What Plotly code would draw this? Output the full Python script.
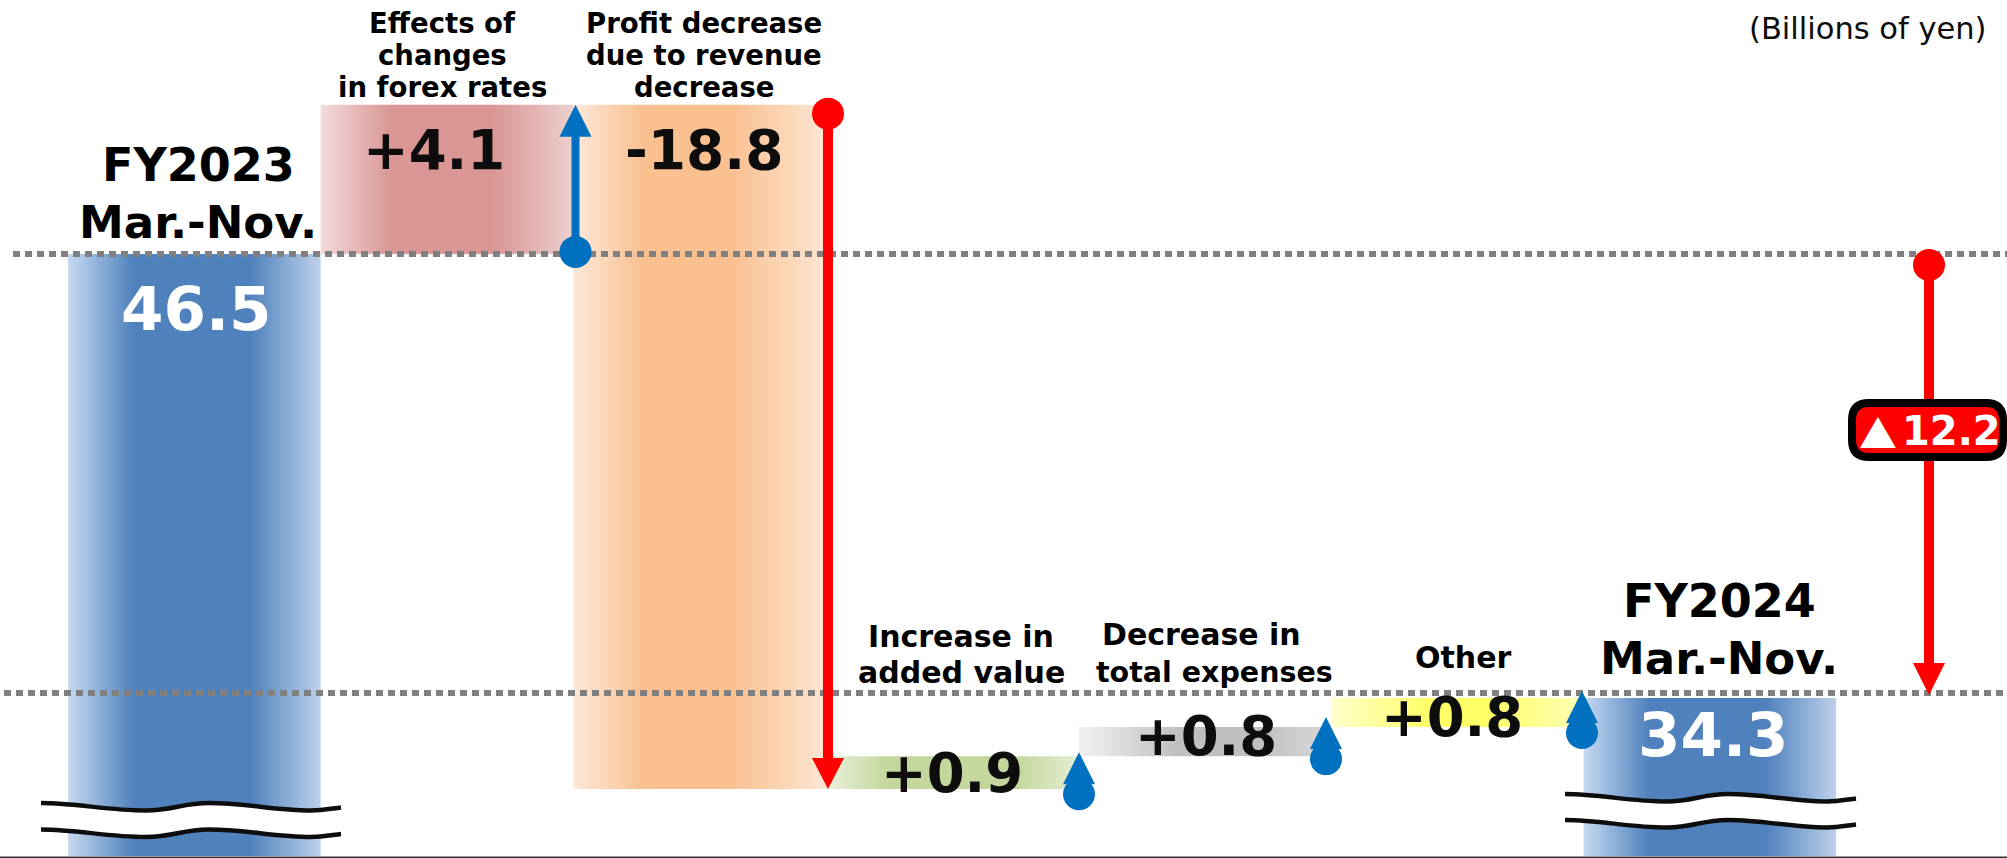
import plotly.graph_objects as go

W, H = 2007, 858

# ---- data ----
categories = ["FY2023 Mar.-Nov.", "Effects of changes in forex rates",
              "Profit decrease due to revenue decrease", "Increase in added value",
              "Decrease in total expenses", "Other", "FY2024 Mar.-Nov."]
start_value = 46.5
end_value = 34.3
change_values = [4.1, -18.8, 0.9, 0.8, 0.8]
total_change = -12.2
value_labels = ["46.5", "+4.1", "-18.8", "+0.9", "+0.8", "+0.8", "34.3"]

# ---- scales ----
PX_PER_UNIT_Y = 36.4
PX_PER_CAT = 252.6
X0 = 68.0
Y_REF_PX = 698.0
y_top = end_value + Y_REF_PX / PX_PER_UNIT_Y
y_bottom = end_value - (H - Y_REF_PX) / PX_PER_UNIT_Y
x_left = -0.5 - X0 / PX_PER_CAT
x_right = x_left + W / PX_PER_CAT
floor_value = end_value - (856 - Y_REF_PX) / PX_PER_UNIT_Y


def vpx(v):
    return Y_REF_PX - (v - end_value) * PX_PER_UNIT_Y


def px2v(p):
    return end_value - (p - Y_REF_PX) / PX_PER_UNIT_Y


def dx(px):
    return px / PX_PER_CAT


def px2x(p):
    return x_left + p / PX_PER_CAT


def grad(edge_l, mid, edge_r, a=0.26, b=0.72):
    return [[0, edge_l], [a, mid], [b, mid], [1, edge_r]]


BLUE = grad("#c6d9f1", "#4f81bd", "#bdd0ea")
gradients = [
    BLUE,
    grad("#f2dcdb", "#d99694", "#ecd0cf", 0.28, 0.68),
    grad("#fde9d9", "#fac090", "#fde6d3", 0.28, 0.62),
    grad("#ebf1de", "#c3d69b", "#e6edd4", 0.25, 0.75),
    grad("#f2f2f2", "#bfbfbf", "#d9d9d9", 0.4, 0.7),
    grad("#ffffcc", "#ffff66", "#ffffb8", 0.4, 0.62),
    BLUE,
]

# running totals give each bar's span
levels = [start_value]
for c in change_values:
    levels.append(round(levels[-1] + c, 1))
bar_low = [floor_value] + [min(levels[i], levels[i + 1]) for i in range(len(change_values))] + [floor_value]
bar_high = [start_value] + [max(levels[i], levels[i + 1]) for i in range(len(change_values))] + [end_value]

fig = go.Figure()

for i, name in enumerate(categories):
    fig.add_trace(go.Scatter(
        x=[i - .5, i + .5, i + .5, i - .5, i - .5],
        y=[bar_low[i], bar_low[i], bar_high[i], bar_high[i], bar_low[i]],
        mode="lines", fill="toself", line=dict(width=0), name=name,
        fillgradient=dict(type="horizontal", colorscale=gradients[i]),
        hoverinfo="name",
    ))

# reference lines
for v, off, x_start in [(start_value, 0, 13), (end_value, -5, 4)]:
    fig.add_trace(go.Scatter(
        x=[px2x(x_start), x_right], y=[px2v(vpx(v) + off)] * 2, mode="lines",
        line=dict(color="#808080", width=6, dash="7px,5px"), hoverinfo="skip",
    ))


def head(x, tip_px, length, half, up, color):
    base = tip_px + length if up else tip_px - length
    fig.add_trace(go.Scatter(
        x=[x - dx(half), x + dx(half), x, x - dx(half)],
        y=[px2v(base), px2v(base), px2v(tip_px), px2v(base)],
        mode="lines", fill="toself", fillcolor=color, line=dict(width=0), hoverinfo="skip",
    ))


def dot(x, center_px, color, r=16):
    fig.add_shape(type="circle", xref="x", yref="y", layer="above",
                  x0=x - dx(r), x1=x + dx(r), y0=px2v(center_px + r), y1=px2v(center_px - r),
                  fillcolor=color, line=dict(width=0))


def stem(x, p0, p1, color, w):
    fig.add_trace(go.Scatter(x=[x, x], y=[px2v(p0), px2v(p1)], mode="lines",
                             line=dict(color=color, width=w), hoverinfo="skip"))


BLUE_A = "#0070c0"
RED_A = "#ff0000"
# forex arrow (up)
xa = 1.5 + dx(2.3)
stem(xa, vpx(levels[0]), vpx(levels[1]) + 30, BLUE_A, 8)
head(xa, vpx(levels[1]), 32, 16, True, BLUE_A)
dot(xa, vpx(levels[0]) - 2, BLUE_A)
# revenue arrow (down)
xa = 2.5 + dx(2.2)
stem(xa, vpx(levels[1]) + 9, vpx(levels[2]) - 30, RED_A, 10)
head(xa, vpx(levels[2]), 31, 16, False, RED_A)
dot(xa, vpx(levels[1]) + 9, RED_A)
# small up arrows
for k, over, nudge in zip(range(3, 6), (4, 10, 7), (0.6, -5, -1.6)):
    xa = k + .5 + dx(nudge)
    tip = vpx(levels[k]) - over
    head(xa, tip, 32, 16, True, BLUE_A)
    dot(xa, tip + 42, BLUE_A)
# total change arrow
xa = px2x(1929)
stem(xa, vpx(start_value) + 11, vpx(end_value) - 30, RED_A, 10)
head(xa, vpx(end_value) - 3, 32, 16, False, RED_A)
dot(xa, vpx(start_value) + 11, RED_A)


def wave(x0, x1, y, amp, gap=0):
    # path is written in page pixels, mapped to paper fractions
    w = x1 - x0
    X = lambda t: (x0 + t * w) / W
    Y = lambda p: 1 - p / H

    def seg(yy):
        return [(0, yy), (.12, yy), (.22, yy + amp), (.35, yy + amp), (.44, yy + amp), (.47, yy), (.56, yy),
                (.68, yy), (.78, yy + amp), (.9, yy + amp), (.94, yy + amp), (.97, yy + amp - 2), (1, yy + amp - 3)]
    s = seg(y)
    d = f"M{X(s[0][0])},{Y(s[0][1])}"
    for i in range(1, len(s), 3):
        d += " C" + " ".join(f"{X(a)},{Y(b)}" for a, b in s[i:i + 3])
    if gap:
        r = list(reversed(seg(y + gap)))
        d += f" L{X(r[0][0])},{Y(r[0][1])}"
        for i in range(1, len(r), 3):
            d += " C" + " ".join(f"{X(a)},{Y(b)}" for a, b in r[i:i + 3])
        d += " Z"
    return d


for x0, x1, y1, gap, amp in [(41, 341, 803, 26.5, 7.5), (1565, 1856, 794, 26, 7.5)]:
    fig.add_shape(type="path", xref="paper", yref="paper", layer="above",
                  path=wave(x0, x1, y1, amp, gap=gap), fillcolor="white", line=dict(width=0))
    for yy in (y1, y1 + gap):
        fig.add_shape(type="path", xref="paper", yref="paper", layer="above",
                      path=wave(x0, x1, yy, amp), line=dict(color="#0d0d0d", width=4.5))

# baseline
fig.add_shape(type="line", xref="paper", yref="paper", x0=0, x1=1, y0=1 - 857.2 / H, y1=1 - 857.2 / H,
              layer="above", line=dict(color="#333333", width=1.5))

# total-change badge
fig.add_shape(type="path", xref="paper", yref="paper", layer="above",
              path=(lambda x0, x1, y0, y1, r:
                    f"M{(x0+r)/W},{1-y0/H} L{(x1-r)/W},{1-y0/H} Q{x1/W},{1-y0/H} {x1/W},{1-(y0+r)/H} "
                    f"L{x1/W},{1-(y1-r)/H} Q{x1/W},{1-y1/H} {(x1-r)/W},{1-y1/H} L{(x0+r)/W},{1-y1/H} "
                    f"Q{x0/W},{1-y1/H} {x0/W},{1-(y1-r)/H} L{x0/W},{1-(y0+r)/H} Q{x0/W},{1-y0/H} {(x0+r)/W},{1-y0/H} Z")
              (1852, 2003, 403, 457, 17),
              fillcolor="#ff0000", line=dict(color="#000000", width=8))

FONT = "DejaVu Sans"
NUM = "#0d0d0d"


def text(s, x, y, size, color="#000000", bold=True, family=FONT):
    fig.add_annotation(text=f"<b>{s}</b>" if bold else s, xref="paper", yref="paper",
                       x=x / W, y=1 - y / H, xanchor="center", yanchor="middle", showarrow=False,
                       font=dict(family=family, size=size, color=color))


for s, x, y, size in [("Effects of", 442, 23, 27.5), ("changes", 442, 55, 27.5), ("in forex rates", 442, 87, 27.5),
                      ("Profit decrease", 704, 23, 27.5), ("due to revenue", 704, 55, 27.5), ("decrease", 704, 87, 27.5),
                      ("Increase in", 961, 636, 30), ("added value", 961, 672, 30),
                      ("Decrease in", 1201, 634, 30), ("total expenses", 1214, 672, 28.5),
                      ("Other", 1463, 657, 30)]:
    text(s, x, y, size)
for s, x, y, size in [("FY2023", 198, 165, 46), ("Mar.-Nov.", 198, 222, 45),
                      ("FY2024", 1719, 601, 46), ("Mar.-Nov.", 1719, 658, 45)]:
    text(s, x, y, size)

value_pos = [(196, 308, 61, "#ffffff"), (434, 150, 54.5, NUM), (704, 150, 55, NUM), (952, 773, 54.5, NUM),
             (1206, 736, 54.5, NUM), (1452, 717, 54.5, NUM), (1713, 734, 61, "#ffffff")]
for s, (x, y, size, c) in zip(value_labels, value_pos):
    text(s, x, y, size, c)

text("▲", 1878, 431, 38, "#ffffff", bold=False, family="Noto Sans CJK JP")
text(f"{abs(total_change):.1f}", 1951, 431, 40, "#ffffff")
text("(Billions of yen)", 1867.5, 28, 30.5, "#0d0d0d", bold=False)

fig.update_layout(
    width=W, height=H, margin=dict(l=0, r=0, t=0, b=0), autosize=False,
    paper_bgcolor="white", plot_bgcolor="white", showlegend=False,
    xaxis=dict(range=[x_left, x_right], visible=False, fixedrange=True),
    yaxis=dict(range=[y_bottom, y_top], visible=False, fixedrange=True),
)
fig.write_html("out.html", config={"displayModeBar": False},
               post_script="document.body.style.margin='0';document.documentElement.style.overflow='hidden';")
